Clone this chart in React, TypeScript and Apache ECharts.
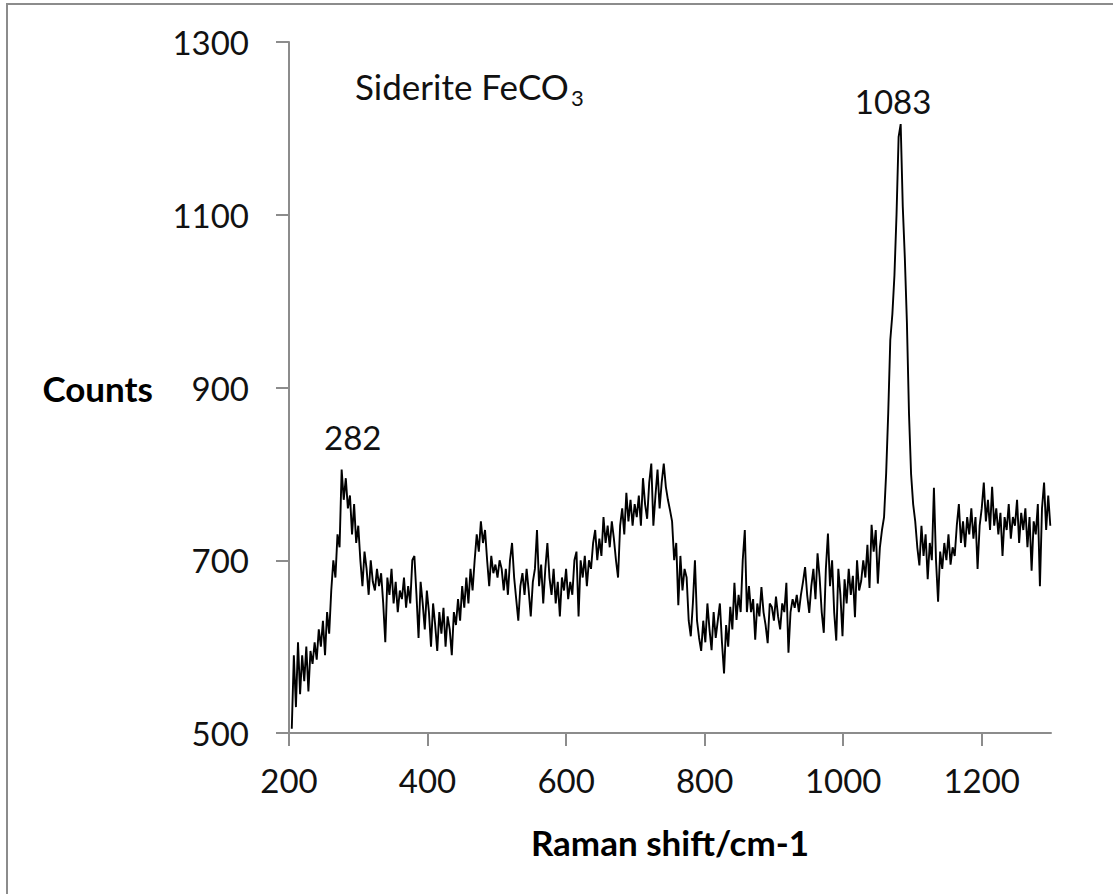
import React, { useEffect, useRef } from "react";
import * as echarts from "echarts";

// ---- axis ticks ----
const xTicks = [200, 400, 600, 800, 1000, 1200];
const yTicks = [500, 700, 900, 1100, 1300];

// ---- spectrum (Raman shift in cm-1, step 3, counts) ----
const shiftStep = 3;

const countsFrom204 = [
  505, 590, 530, 605, 545, 590, 560, 600, 548, 595, 580, 605, 585, 620, 600, 630, 590, 640, 615,
  665, 700, 680, 730, 715, 805, 770, 795, 760, 775, 730, 765, 720, 740,
];
const countsFrom303 = [
  700, 670, 710, 690, 660, 700, 675, 665, 690, 670, 685, 650, 605, 680, 660, 690, 650, 675, 640,
  665, 655, 680, 645, 670, 650, 700, 705, 660, 610, 675, 650, 620, 665,
];
const countsFrom402 = [
  640, 600, 650, 625, 595, 640, 615, 645, 600, 635, 620, 590, 640, 625, 655, 630, 670, 645, 680,
  650, 690, 665, 700, 730, 710, 745, 720, 735, 700, 670, 705, 685, 695, 680, 700, 690,
];
const countsFrom510 = [
  665, 690, 660, 700, 720, 680, 655, 630, 670, 685, 660, 690, 665, 635, 675, 690, 735, 670, 695,
  650, 690, 720, 680, 660, 690, 650, 675, 635, 680, 665, 690, 655, 675, 660, 700, 710, 635,
];
const countsFrom621 = [
  700, 680, 705, 670, 700, 690, 720, 735, 700, 725, 705, 750, 720, 740, 715, 745, 725, 700, 680,
  740, 760, 730, 778, 745, 770, 740, 765, 750,
];
const countsFrom705 = [
  775, 740, 795, 765, 748, 790, 812, 740, 775, 805, 760, 790, 812, 785, 770, 758, 745, 700, 720,
  648, 705, 665, 690, 680, 630, 612, 650, 700, 630, 610,
];
const countsFrom795 = [
  595, 630, 605, 650, 620, 596, 640, 610, 630, 650, 605, 569, 625, 600, 646, 620, 674, 631, 660,
  640, 700, 735, 640,
];
const countsFrom864 = [
  670, 640, 655, 608, 650, 635, 669, 640, 625, 604, 650, 646, 630, 658, 635, 620, 650, 640, 674,
  593, 640, 655, 645, 660, 640, 660, 675, 692, 660, 639, 670, 690, 655, 708, 680, 640, 616, 690,
  731, 670, 700, 640, 607, 690,
];
const countsFrom996 = [
  660, 612, 678, 650, 690, 660, 682, 634, 700, 665, 676, 700, 680, 718, 668, 741, 710, 735, 673,
  715, 735, 750, 800, 870, 955, 985, 1030, 1100, 1190, 1205, 1110, 1050, 975, 870, 800, 765,
];
const countsFrom1104 = [
  745, 715, 694, 740, 705, 730, 678, 720, 700, 784, 700, 652, 710, 690, 720, 700, 730, 695, 715,
  705, 740, 765, 720, 745, 715, 750, 730, 760, 725, 750, 690, 740, 760, 790, 745, 770, 735, 785,
  740, 760, 730, 755, 705, 750, 735, 765, 725, 750, 740, 770, 720, 755, 735, 760, 715, 750, 688,
  745, 730, 765, 670, 760, 790, 735, 775, 740,
];

const segments: { start: number; counts: number[] }[] = [
  { start: 204, counts: countsFrom204 },
  { start: 303, counts: countsFrom303 },
  { start: 402, counts: countsFrom402 },
  { start: 510, counts: countsFrom510 },
  { start: 621, counts: countsFrom621 },
  { start: 705, counts: countsFrom705 },
  { start: 795, counts: countsFrom795 },
  { start: 864, counts: countsFrom864 },
  { start: 996, counts: countsFrom996 },
  { start: 1104, counts: countsFrom1104 },
];

// peak annotations: text, and the (shift, counts) point where the text is centred
const peakTexts = ["282", "1083"];
const peakTextShift = [292, 1072];
const peakTextCounts = [843, 1232];

const FONT = "Lato, 'Open Sans', sans-serif";

export default function App() {
  const ref = useRef<HTMLDivElement>(null);

  useEffect(() => {
    if (!ref.current) return;
    const chart = echarts.init(ref.current, null, { renderer: "svg", width: 1113, height: 894 });

    const data: [number, number][] = [];
    segments.forEach((seg) => {
      seg.counts.forEach((c, i) => data.push([seg.start + i * shiftStep, c]));
    });

    const axisGray = "#8c8c8c";
    const plain = (v: number) => String(v);

    chart.setOption({
      animation: false,
      backgroundColor: "#ffffff",
      grid: { left: 289, top: 42, width: 762, height: 691, containLabel: false },
      xAxis: {
        type: "value",
        min: 200,
        max: 1300,
        axisLine: { show: true, onZero: false, lineStyle: { color: axisGray, width: 2 } },
        axisTick: { show: true, customValues: xTicks, length: 13, lineStyle: { color: axisGray, width: 2 } },
        axisLabel: { customValues: xTicks, formatter: plain, fontFamily: FONT, fontSize: 33, color: "#111", margin: 30 },
        splitLine: { show: false },
        name: "Raman shift/cm-1",
        nameLocation: "middle",
        nameGap: 109,
        nameTextStyle: { fontFamily: FONT, fontWeight: "bold", fontSize: 35, color: "#000", verticalAlign: "middle" },
      },
      yAxis: {
        type: "value",
        min: 500,
        max: 1300,
        axisLine: { show: true, onZero: false, lineStyle: { color: axisGray, width: 2 } },
        axisTick: { show: true, customValues: yTicks, length: 13, lineStyle: { color: axisGray, width: 2 } },
        axisLabel: { customValues: yTicks, formatter: plain, fontFamily: FONT, fontSize: 33, color: "#111", margin: 40 },
        splitLine: { show: false },
        name: "Counts",
        nameLocation: "middle",
        nameRotate: 0,
        nameGap: 136,
        nameTextStyle: { fontFamily: FONT, fontWeight: "bold", fontSize: 35, color: "#000", verticalAlign: "middle", align: "right" },
      },
      series: [
        {
          type: "line",
          data,
          showSymbol: false,
          symbol: "none",
          silent: true,
          lineStyle: { color: "#000", width: 1.9 },
          markPoint: {
            symbol: "rect",
            symbolSize: [1, 1],
            itemStyle: { color: "rgba(0,0,0,0)" },
            label: {
              show: true,
              position: "inside",
              fontFamily: FONT,
              fontSize: 33,
              color: "#111",
              formatter: (p: any) => p.name,
            },
            data: peakTexts.map((t, i) => ({ name: t, coord: [peakTextShift[i], peakTextCounts[i]] })),
          },
        },
      ],
      graphic: [
        {
          type: "rect",
          silent: true,
          shape: { x: 7, y: 4, width: 1300, height: 1100 },
          style: { fill: "none", stroke: "#8c8c8c", lineWidth: 2 },
        },
        {
          type: "text",
          left: 355,
          top: 68,
          silent: true,
          style: { text: "Siderite FeCO", font: `35px ${FONT}`, fill: "#111" },
        },
        {
          type: "text",
          left: 571,
          top: 86,
          silent: true,
          style: { text: "3", font: `22px ${FONT}`, fill: "#111" },
        },
      ],
    });

    return () => chart.dispose();
  }, []);

  return (
    <div
      ref={ref}
      style={{ position: "absolute", left: 0, top: 0, width: 1113, height: 894, background: "#fff" }}
    />
  );
}
